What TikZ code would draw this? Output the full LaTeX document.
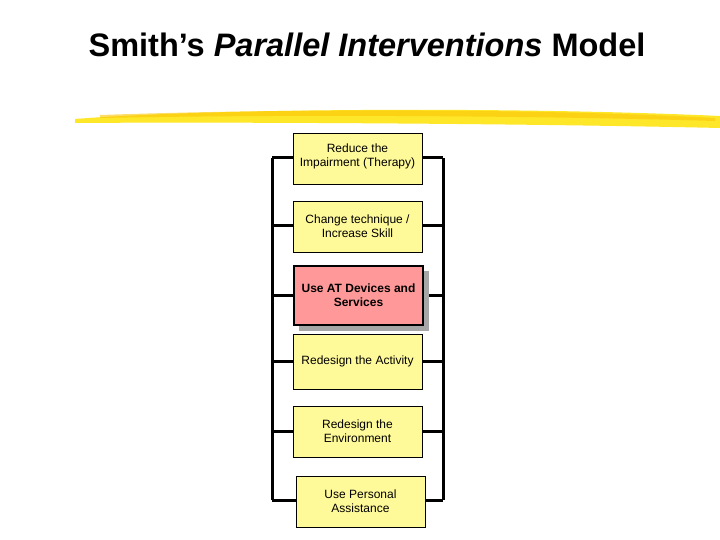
\documentclass[tikz,border=0pt]{standalone}
\usepackage{fontspec}
\setmainfont{Liberation Sans}
\begin{document}
\begin{tikzpicture}[x=1pt,y=-1pt,
  box/.style={draw=black,line width=0.8pt,fill=yellow!40!white,minimum width=129pt,minimum height=51pt,align=center,font=\fontsize{12}{14}\selectfont,inner sep=1pt},
  wire/.style={line width=3pt}]
\useasboundingbox (0,0) rectangle (720,540);
\node[font=\fontsize{32.5}{36}\selectfont\bfseries] (title) at (367,45) {Smith’s \textit{Parallel Interventions} Model};
\fill[yellow!85!orange,opacity=0.85] (75,119) .. controls (200,109) and (500,106) .. (720,116) -- (720,128) .. controls (500,123) and (200,122) .. (75,123) -- cycle;
\fill[yellow!60!orange,opacity=0.6] (100,115) .. controls (300,108) and (550,109) .. (715,118) -- (715,121) .. controls (550,116) and (300,114) .. (100,118) -- cycle;
\coordinate (lt) at (272,158); \coordinate (lb) at (272,500);
\coordinate (rt) at (443,158); \coordinate (rb) at (443,500);
\draw[wire] (lt) -- (lb); \draw[wire] (rt) -- (rb);
\foreach \y/\n in {158/a,226/b,295/c,361/d,431/e,500/f}{
  \coordinate (L\n) at (272,\y); \coordinate (R\n) at (443,\y);
  \draw[wire] (L\n) -- (R\n);}
\node[box,text depth=6pt] (b1) at (357.5,158.5) {Reduce the\\Impairment (Therapy)};
\node[box] (b2) at (357.5,226.5) {Change technique /\\Increase Skill};
\fill[gray!70] (299,271) rectangle (429,331);
\node[box,fill={rgb,255:red,255;green,153;blue,153},line width=2.5pt,minimum width=129pt,minimum height=59pt,font=\fontsize{12}{14}\selectfont\bfseries] (b3) at (358.5,295.5) {Use AT Devices and\\Services};
\node[box,minimum height=55pt] (b4) at (357.5,361.5) {Redesign the Activity};
\node[box] (b5) at (357.5,431.5) {Redesign the\\Environment};
\node[box] (b6) at (360.5,501.5) {Use Personal\\Assistance};
\end{tikzpicture}
\end{document}
